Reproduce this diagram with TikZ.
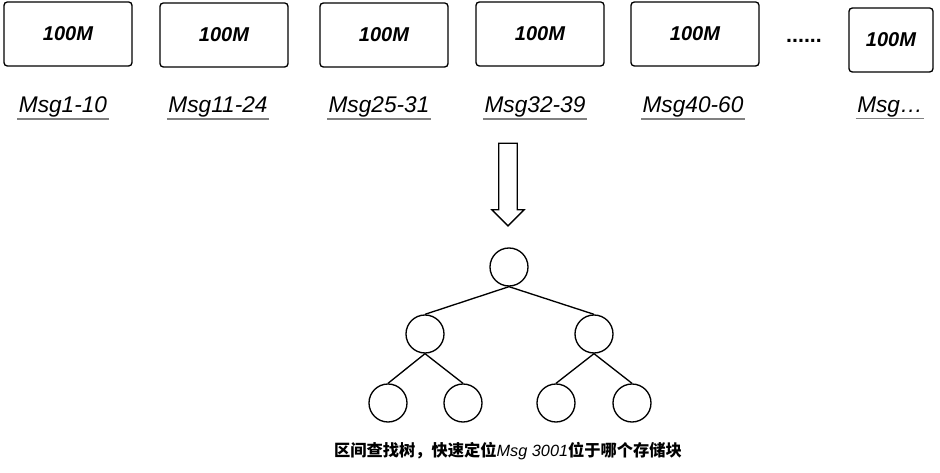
\documentclass[tikz,border=0pt]{standalone}
\usepackage{fontspec}
\setmainfont{Liberation Sans}
\newfontfamily\cjk{Noto Sans CJK SC}
\usetikzlibrary{shapes.geometric, shapes.arrows}
\tikzstyle{block} = [rectangle, rounded corners=2.5pt, minimum width=96pt, minimum height=48pt, draw=black, line width=1pt, font=\fontsize{15}{17}\selectfont\bfseries\itshape]
\tikzstyle{rangelabel} = [inner sep=1pt, font=\fontsize{17}{19}\selectfont\itshape]
\tikzstyle{uline} = [draw=gray, line width=1pt]
\tikzstyle{tnode} = [circle, minimum size=28.5pt, inner sep=0pt, draw=black, line width=1pt]
\tikzstyle{edge} = [line width=1pt]
\tikzstyle{bigarrow} = [single arrow, draw=black, line width=1pt, rotate=-90, inner xsep=0pt, inner ysep=6.4pt, minimum height=62pt, single arrow head extend=5.2pt]

\begin{document}
\begin{tikzpicture}[x=0.75pt, y=-0.75pt]
  \useasboundingbox (0,0) rectangle (940,473);
  % storage blocks
  \node (b1) [block] at (68,34) {100M};
  \node (b2) [block] at (224,35) {100M};
  \node (b3) [block] at (384,35) {100M};
  \node (b4) [block] at (540,34) {100M};
  \node (b5) [block] at (695,34) {100M};
  \node (dots) at (804,41) {\fontsize{16}{18}\selectfont\bfseries ......};
  \node (b6) [block, minimum width=63pt] at (891,40) {100M};
  % ranges
  \node (m1) [rangelabel] at (63,107) {Msg1-10};
  \node (m2) [rangelabel] at (218,107) {Msg11-24};
  \node (m3) [rangelabel] at (379,107) {Msg25-31};
  \node (m4) [rangelabel] at (535,107) {Msg32-39};
  \node (m5) [rangelabel] at (693,107) {Msg40-60};
  \node (m6) [rangelabel] at (890,107) {Msg\dots};
  \foreach \m in {m1,m2,m3,m4,m5,m6}
    \draw [uline] (\m.south west) -- (\m.south east);
  \node (down) [bigarrow] at (508,180) {};
  % interval tree
  \node (root) [tnode] at (509,267) {};
  \node (l) [tnode] at (425,334) {};
  \node (r) [tnode] at (594,334) {};
  \node (ll) [tnode] at (388,403) {};
  \node (lr) [tnode] at (463,403) {};
  \node (rl) [tnode] at (556,403) {};
  \node (rr) [tnode] at (632,403) {};
  \draw [edge] (root.south) -- (l.north);
  \draw [edge] (root.south) -- (r.north);
  \draw [edge] (l.south) -- (ll.north);
  \draw [edge] (l.south) -- (lr.north);
  \draw [edge] (r.south) -- (rl.north);
  \draw [edge] (r.south) -- (rr.north);
  \node (caption) at (508,451) {\fontsize{12.2}{14}\selectfont\cjk\bfseries 区间查找树，快速定位{\normalfont\itshape Msg 3001}位于哪个存储块};
\end{tikzpicture}
\end{document}
